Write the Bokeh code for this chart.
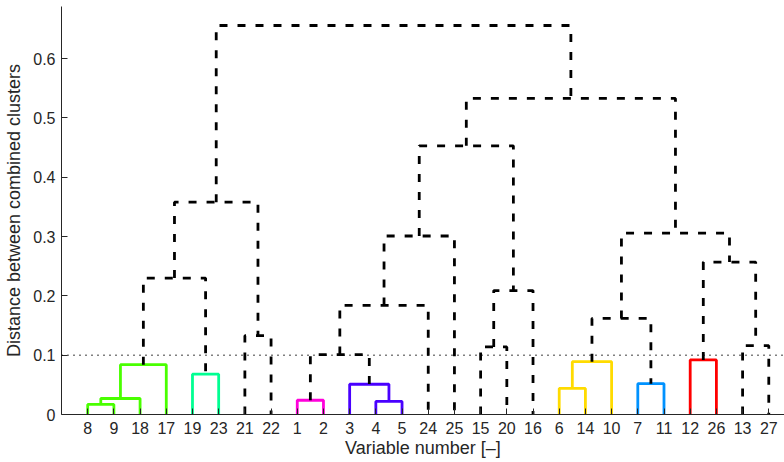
from bokeh.plotting import figure
from bokeh.models import Range1d, FixedTicker, Span, ColumnDataSource
from bokeh.embed import file_html
from bokeh.resources import INLINE

# ---------------- data ----------------
leaf_order = [8, 9, 18, 17, 19, 23, 21, 22, 1, 2, 3, 4, 5, 24, 25,
              15, 20, 16, 6, 14, 10, 7, 11, 12, 26, 13, 27]

# linkage: children are leaf numbers (int) or earlier merges ("m<k>", 1-based)
merge_left = [8, "m1", "m2", 19, "m3", 21, "m5", 1, 4, 3, "m8", "m11", "m12",
              15, "m14", "m13", 6, "m17", 7, "m18", 12, 13, "m21", "m20", "m16", "m7"]
merge_right = [9, 18, 17, 23, "m4", 22, "m6", 2, 5, "m9", "m10", 24, 25,
               20, 16, "m15", 14, 10, 11, "m19", 26, 27, "m22", "m23", "m24", "m25"]
merge_height = [0.017, 0.027, 0.084, 0.068, 0.230, 0.133, 0.358, 0.024, 0.022,
                0.051, 0.101, 0.184, 0.301, 0.114, 0.209, 0.453, 0.044, 0.089,
                0.052, 0.162, 0.092, 0.116, 0.257, 0.306, 0.533, 0.656]

cutoff = 0.1
cluster_groups = [[8, 9, 18, 17], [19, 23], [1, 2], [3, 4, 5],
                  [6, 14, 10], [7, 11], [12, 26]]
y_ticks = [0, 0.1, 0.2, 0.3, 0.4, 0.5, 0.6]
y_tick_labels = ["0", "0.1", "0.2", "0.3", "0.4", "0.5", "0.6"]

# styles
group_colors = ["#49ff00", "#00ff92", "#ff00db", "#4900ff",
                "#ffdb00", "#0092ff", "#ff0000"]
axis_color = "#262626"
font = "Liberation Sans"

# ---------------- build dendrogram links ----------------
pos = {leaf: i + 1 for i, leaf in enumerate(leaf_order)}
node_x, node_h, node_leaves = {}, {}, {}


def info(c):
    if isinstance(c, int):
        return pos[c], 0.0, [c]
    return node_x[c], node_h[c], node_leaves[c]


col_xs, col_ys, col_c = [], [], []
blk_xs, blk_ys = [], []
for k, (a, b, h) in enumerate(zip(merge_left, merge_right, merge_height)):
    xa, ha, la = info(a)
    xb, hb, lb = info(b)
    name = "m%d" % (k + 1)
    node_x[name] = (xa + xb) / 2.0
    node_h[name] = h
    node_leaves[name] = la + lb
    xs = [xa, xa, xb, xb]
    ys = [ha, h, h, hb]
    if h <= cutoff:
        gi = next(i for i, g in enumerate(cluster_groups) if la[0] in g)
        col_xs.append(xs)
        col_ys.append(ys)
        col_c.append(group_colors[gi])
    else:
        blk_xs.append(xs)
        blk_ys.append(ys)

# ---------------- figure ----------------
p = figure(width=784, height=462, output_backend="svg", toolbar_location=None,
           x_range=Range1d(0, 27.6), y_range=Range1d(0, 0.688),
           min_border_left=61, min_border_right=0, min_border_top=6,
           min_border_bottom=48)
p.outline_line_color = None
p.grid.visible = False
p.background_fill_color = "white"
p.border_fill_color = "white"

p.add_layout(Span(location=cutoff, dimension="width", line_color="#000000",
                  line_width=1.6, line_dash="1 5"))

p.multi_line(xs="xs", ys="ys", line_color="c", line_width=2.8,
             source=ColumnDataSource(dict(xs=col_xs, ys=col_ys, c=col_c)))
p.multi_line(xs=blk_xs, ys=blk_ys, line_color="black", line_width=2.8,
             line_dash="8 10")

# axes
p.xaxis.ticker = FixedTicker(ticks=list(range(1, len(leaf_order) + 1)))
p.xaxis.major_label_overrides = {i + 1: str(l) for i, l in enumerate(leaf_order)}
p.yaxis.ticker = FixedTicker(ticks=y_ticks)
p.yaxis.major_label_overrides = {t: s for t, s in zip(y_ticks, y_tick_labels)}
p.xaxis.axis_label = "Variable number [\u2013]"
p.yaxis.axis_label = "Distance between combined clusters"

for ax in (p.xaxis, p.yaxis):
    ax.axis_line_color = axis_color
    ax.axis_line_width = 1
    ax.major_tick_line_color = axis_color
    ax.major_tick_in = 6
    ax.major_tick_out = 0
    ax.minor_tick_line_color = None
    ax.major_label_text_font = font
    ax.major_label_text_font_size = "16px"
    ax.major_label_text_color = axis_color
    ax.axis_label_text_font = font
    ax.axis_label_text_font_size = "18px"
    ax.axis_label_text_font_style = "normal"
    ax.axis_label_text_color = axis_color

p.xaxis.major_label_standoff = 7
p.xaxis.axis_label_standoff = 1
p.yaxis.major_label_standoff = 6
p.yaxis.axis_label_standoff = 6

open("out.html", "w").write(file_html(p, INLINE))
